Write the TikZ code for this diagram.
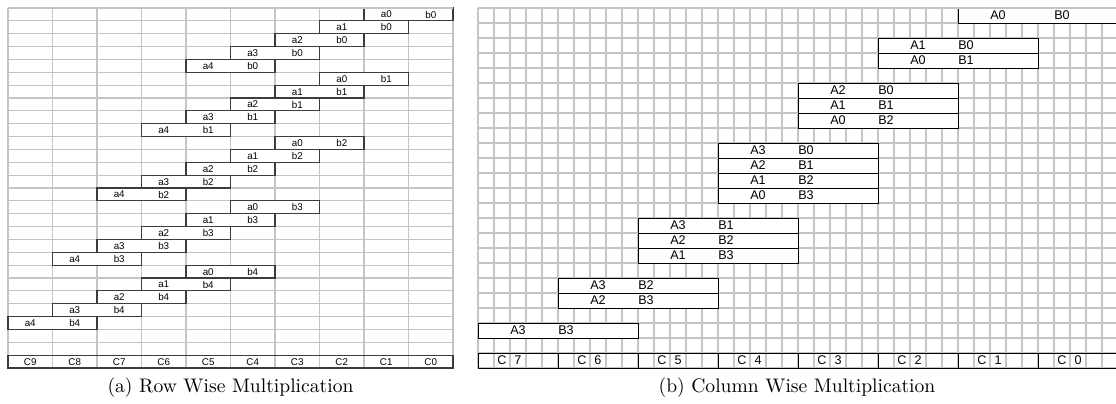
\documentclass[tikz,border=0pt]{standalone}
\usepackage{fontspec}
\newfontfamily\cellfont{Liberation Sans}
\definecolor{gridgray}{RGB}{196,196,196}
\definecolor{boxgray}{RGB}{60,60,60}

\begin{document}
\begin{tikzpicture}[
    x=0.5pt, y=-0.5pt,
    gridline/.style={draw=gridgray, line width=0.55pt},
    rowbox/.style={draw=boxgray, fill=white, line width=0.6pt},
    colbox/.style={draw=black, fill=white, line width=0.5pt},
    rowtext/.style={font=\cellfont\fontsize{4.9}{5}\selectfont, inner sep=0pt},
    coltext/.style={font=\cellfont\fontsize{6.3}{7}\selectfont, inner sep=0pt},
    caption/.style={font=\fontsize{9.8}{12}\selectfont, inner sep=0pt}
]
\clip (0,0) rectangle (1116,403);

% (a) row wise: 10 columns, 28 rows
\foreach \c in {0,...,10}
    \draw [gridline] ({8+44.5*\c},8) -- ({8+44.5*\c},368);
\foreach \r in {0,...,28}
    \draw [gridline] (8,{8+12.857*\r}) -- (453,{8+12.857*\r});

\foreach \j in {0,...,4}
    \foreach \i in {0,...,4} {
        \pgfmathsetmacro\xl{8+44.5*(8-\i-\j)}
        \pgfmathsetmacro\yt{8+12.857*(5*\j+\i)}
        \draw [rowbox] (\xl,\yt) rectangle ++(89,12.857);
        \node [rowtext] (ra\i\j) at (\xl+22.25,\yt+6.6) {a\i};
        \node [rowtext] (rb\i\j) at (\xl+66.75,\yt+6.6) {b\j};
    }

% result row
\draw [rowbox, fill=none] (8,355.14) rectangle (453,368);
\foreach \c in {0,...,9} {
    \pgfmathtruncatemacro\n{9-\c}
    \node [rowtext] (rc\n) at ({30.25+44.5*\c},361.8) {C\n};
}
\draw [gridline] (8,8) -- (453,8);

% (b) column wise: 40 columns, 24 rows
\foreach \c in {0,...,40}
    \draw [gridline] ({478+16*\c},8) -- ({478+16*\c},368);
\foreach \r in {0,...,24}
    \draw [gridline] (478,{8+15*\r}) -- (1118,{8+15*\r});

\foreach \k/\s/\n in {0/0/1, 1/2/2, 2/5/3, 3/9/4, 4/14/3, 5/18/2, 6/21/1} {
    \pgfmathsetmacro\xl{478+80*(6-\k)}
    \pgfmathsetmacro\yt{8+15*\s}
    \pgfmathsetmacro\bx{ifthenelse(\k==0,104,88)}
    \draw [colbox] (\xl,\yt) rectangle ++(160,15*\n);
    \foreach \m in {1,...,\n} {
        \pgfmathtruncatemacro\ai{min(\k,3)-\m+1}
        \pgfmathtruncatemacro\bi{\k-\ai}
        \draw [colbox] (\xl,\yt+15*\m) -- ++(160,0);
        \node [coltext] (ca\ai\bi) at (\xl+40,\yt+15*\m-7.5) {A\ai};
        \node [coltext] (cb\ai\bi) at (\xl+\bx,\yt+15*\m-7.5) {B\bi};
    }
}

% result row
\draw [colbox, fill=none] (478,353) rectangle (1118,368);
\foreach \g in {0,...,7} {
    \pgfmathtruncatemacro\n{7-\g}
    \draw [colbox] ({478+80*\g},353) -- ({478+80*\g},368);
    \node [coltext] (cc\n) at ({502+80*\g},360.5) {C};
    \node [coltext] (cd\n) at ({518+80*\g},360.5) {\n};
}
\draw [gridline] (478,8) -- (1118,8);

% captions
\node [caption] (capa) at (230.5,388) {(a) Row Wise Multiplication};
\node [caption] (capb) at (797,388) {(b) Column Wise Multiplication};
\end{tikzpicture}
\end{document}
